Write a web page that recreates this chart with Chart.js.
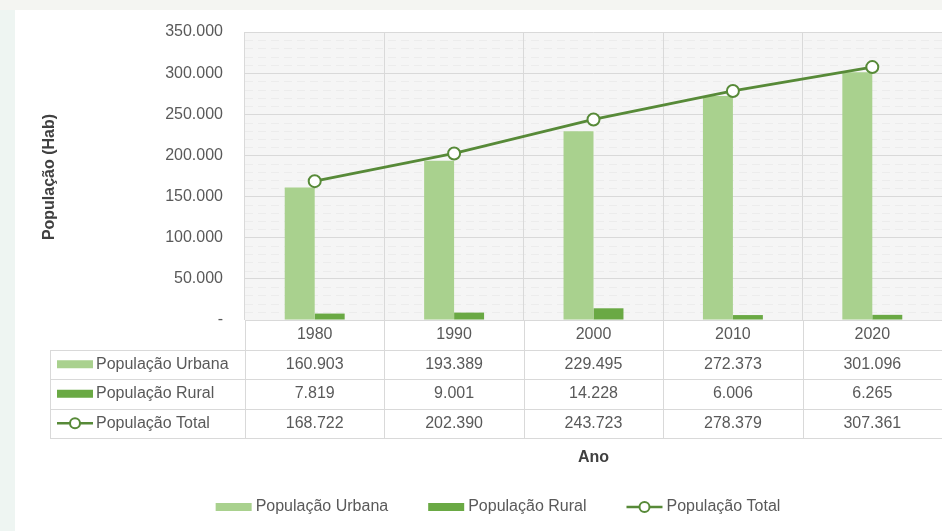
<!DOCTYPE html>
<html>
<head>
<meta charset="utf-8">
<script src="https://cdn.jsdelivr.net/npm/chart.js@4.4.1/dist/chart.umd.min.js"></script>
<style>
  html, body { margin: 0; padding: 0; }
  body { width: 942px; height: 531px; background: #eef5f2; position: relative; overflow: hidden; }
  .faixa { position: absolute; left: 0; top: 0; right: 0; height: 10px; background: #f4f5f2; }
  .cartao { position: absolute; left: 15px; top: 10px; right: 0; bottom: 0; background: #fff; }
  #grafico { position: absolute; left: 0; top: 0; }
</style>
</head>
<body>
<div class="faixa"></div>
<div class="cartao"></div>
<canvas id="grafico" width="950" height="531"></canvas>
<script>
// séries censitárias (habitantes)
const anos = ['1980', '1990', '2000', '2010', '2020'];
const popUrbana = [160903, 193389, 229495, 272373, 301096];
const popRural = [7819, 9001, 14228, 6006, 6265];
const popTotal = [168722, 202390, 243723, 278379, 307361];
const nomesSeries = ['População Urbana', 'População Rural', 'População Total'];

const corUrbana = '#a9d18e';
const corRural = '#6aa944';
const corTotal = '#578a38';
const corTexto = '#595959';
const corGrade = '#d9d9d9';
const fonte = '"Liberation Sans", Arial, sans-serif';

// 1234567 -> "1.234.567", zero vira "-"
function fmt(v) {
  if (v === 0) return '-';
  return String(v).replace(/\B(?=(\d{3})+(?!\d))/g, '.');
}

// chave da legenda (barra ou linha com marcador)
function desenhaChave(ctx, tipo, x, y) {
  ctx.save();
  if (tipo === 'linha') {
    ctx.strokeStyle = corTotal;
    ctx.lineWidth = 2.5;
    ctx.beginPath();
    ctx.moveTo(x, y);
    ctx.lineTo(x + 36, y);
    ctx.stroke();
    ctx.fillStyle = '#fff';
    ctx.lineWidth = 2;
    ctx.beginPath();
    ctx.arc(x + 18, y, 5, 0, Math.PI * 2);
    ctx.fill();
    ctx.stroke();
  } else {
    ctx.fillStyle = tipo === 'urbana' ? corUrbana : corRural;
    ctx.fillRect(x, y - 4, 36, 8);
  }
  ctx.restore();
}

const tiposChave = ['urbana', 'rural', 'linha'];
const linhasTabela = [popUrbana, popRural, popTotal];

const pluginTabela = {
  id: 'tabelaDados',
  beforeDraw(chart) {
    const { ctx, chartArea: a, scales: { y } } = chart;
    ctx.save();
    ctx.fillStyle = '#f5f5f5';
    ctx.fillRect(a.left, a.top, a.right - a.left, a.bottom - a.top);
    // grade secundária
    ctx.strokeStyle = '#ececec';
    ctx.lineWidth = 1;
    ctx.setLineDash([8, 5]);
    for (let v = 10000; v < 350000; v += 10000) {
      if (v % 50000 === 0) continue;
      const py = Math.round(y.getPixelForValue(v)) + 0.5;
      ctx.beginPath();
      ctx.moveTo(a.left, py);
      ctx.lineTo(a.right, py);
      ctx.stroke();
    }
    ctx.restore();
  },
  afterDraw(chart) {
    const { ctx, chartArea: a, scales: { x } } = chart;
    const meio = (x.getPixelForValue(1) - x.getPixelForValue(0)) / 2;
    const altLinha = 29.5;
    const topo = a.bottom;
    const base = topo + altLinha * 4;
    const esq = 50;

    ctx.save();
    ctx.strokeStyle = corGrade;
    ctx.lineWidth = 1;
    // linhas horizontais
    for (let r = 1; r <= 4; r++) {
      const py = Math.round(topo + altLinha * r) + 0.5;
      ctx.beginPath();
      ctx.moveTo(esq, py);
      ctx.lineTo(a.right, py);
      ctx.stroke();
    }
    // divisões das colunas
    const divisoes = anos.map((_, i) => x.getPixelForValue(i) - meio);
    divisoes.push(x.getPixelForValue(anos.length - 1) + meio);
    divisoes.forEach(px => {
      const xx = Math.round(px) + 0.5;
      ctx.beginPath();
      ctx.moveTo(xx, topo);
      ctx.lineTo(xx, base);
      ctx.stroke();
    });
    ctx.beginPath();
    ctx.moveTo(esq + 0.5, Math.round(topo + altLinha) + 0.5);
    ctx.lineTo(esq + 0.5, base);
    ctx.stroke();

    // textos da tabela
    ctx.font = '16px ' + fonte;
    ctx.fillStyle = corTexto;
    ctx.textBaseline = 'middle';
    ctx.textAlign = 'center';
    anos.forEach((ano, i) => {
      ctx.fillText(ano, x.getPixelForValue(i), topo + altLinha / 2);
    });
    linhasTabela.forEach((serie, r) => {
      const cy = topo + altLinha * (r + 1.5);
      serie.forEach((v, i) => {
        ctx.fillText(fmt(v), x.getPixelForValue(i), cy);
      });
      desenhaChave(ctx, tiposChave[r], 57, cy);
      ctx.textAlign = 'left';
      ctx.fillText(nomesSeries[r], 96, cy);
      ctx.textAlign = 'center';
    });

    // títulos dos eixos
    ctx.font = 'bold 16px ' + fonte;
    ctx.fillStyle = '#404040';
    ctx.fillText('Ano', (a.left + a.right) / 2, 458);
    ctx.save();
    ctx.translate(50, 177);
    ctx.rotate(-Math.PI / 2);
    ctx.fillText('População (Hab)', 0, 0);
    ctx.restore();

    // legenda inferior
    ctx.font = '16px ' + fonte;
    ctx.fillStyle = corTexto;
    ctx.textAlign = 'left';
    const larguras = nomesSeries.map(n => 40 + ctx.measureText(n).width);
    const espaco = 40;
    const total = larguras.reduce((s, w) => s + w, 0) + espaco * 2;
    let lx = 498 - total / 2;
    const ly = 507;
    nomesSeries.forEach((n, i) => {
      desenhaChave(ctx, tiposChave[i], lx, ly);
      ctx.fillText(n, lx + 40, ly);
      lx += larguras[i] + espaco;
    });
    ctx.restore();
  }
};

new Chart(document.getElementById('grafico'), {
  type: 'bar',
  data: {
    labels: anos,
    datasets: [
      {
        type: 'line',
        label: nomesSeries[2],
        data: popTotal,
        borderColor: corTotal,
        borderWidth: 2.8,
        pointRadius: 6,
        pointBackgroundColor: '#fff',
        pointBorderColor: corTotal,
        pointBorderWidth: 2,
        tension: 0,
        order: 0
      },
      {
        label: nomesSeries[0],
        data: popUrbana,
        backgroundColor: corUrbana,
        categoryPercentage: 0.43,
        barPercentage: 1,
        order: 1
      },
      {
        label: nomesSeries[1],
        data: popRural,
        backgroundColor: corRural,
        categoryPercentage: 0.43,
        barPercentage: 1,
        order: 1
      }
    ]
  },
  options: {
    responsive: false,
    animation: false,
    devicePixelRatio: 1,
    layout: { padding: { left: 0, right: 0, top: 32, bottom: 211 } },
    plugins: {
      legend: { display: false },
      tooltip: { enabled: false }
    },
    scales: {
      x: {
        ticks: { display: false },
        grid: { color: corGrade, drawTicks: false, offset: true },
        border: { color: corGrade }
      },
      y: {
        min: 0,
        max: 350000,
        afterFit(s) { s.width = 245; },
        ticks: {
          stepSize: 50000,
          padding: 22,
          color: corTexto,
          font: { family: fonte, size: 16 },
          callback: v => fmt(v)
        },
        grid: { color: corGrade, drawTicks: false },
        border: { display: false }
      }
    }
  },
  plugins: [pluginTabela]
});
</script>
</body>
</html>
